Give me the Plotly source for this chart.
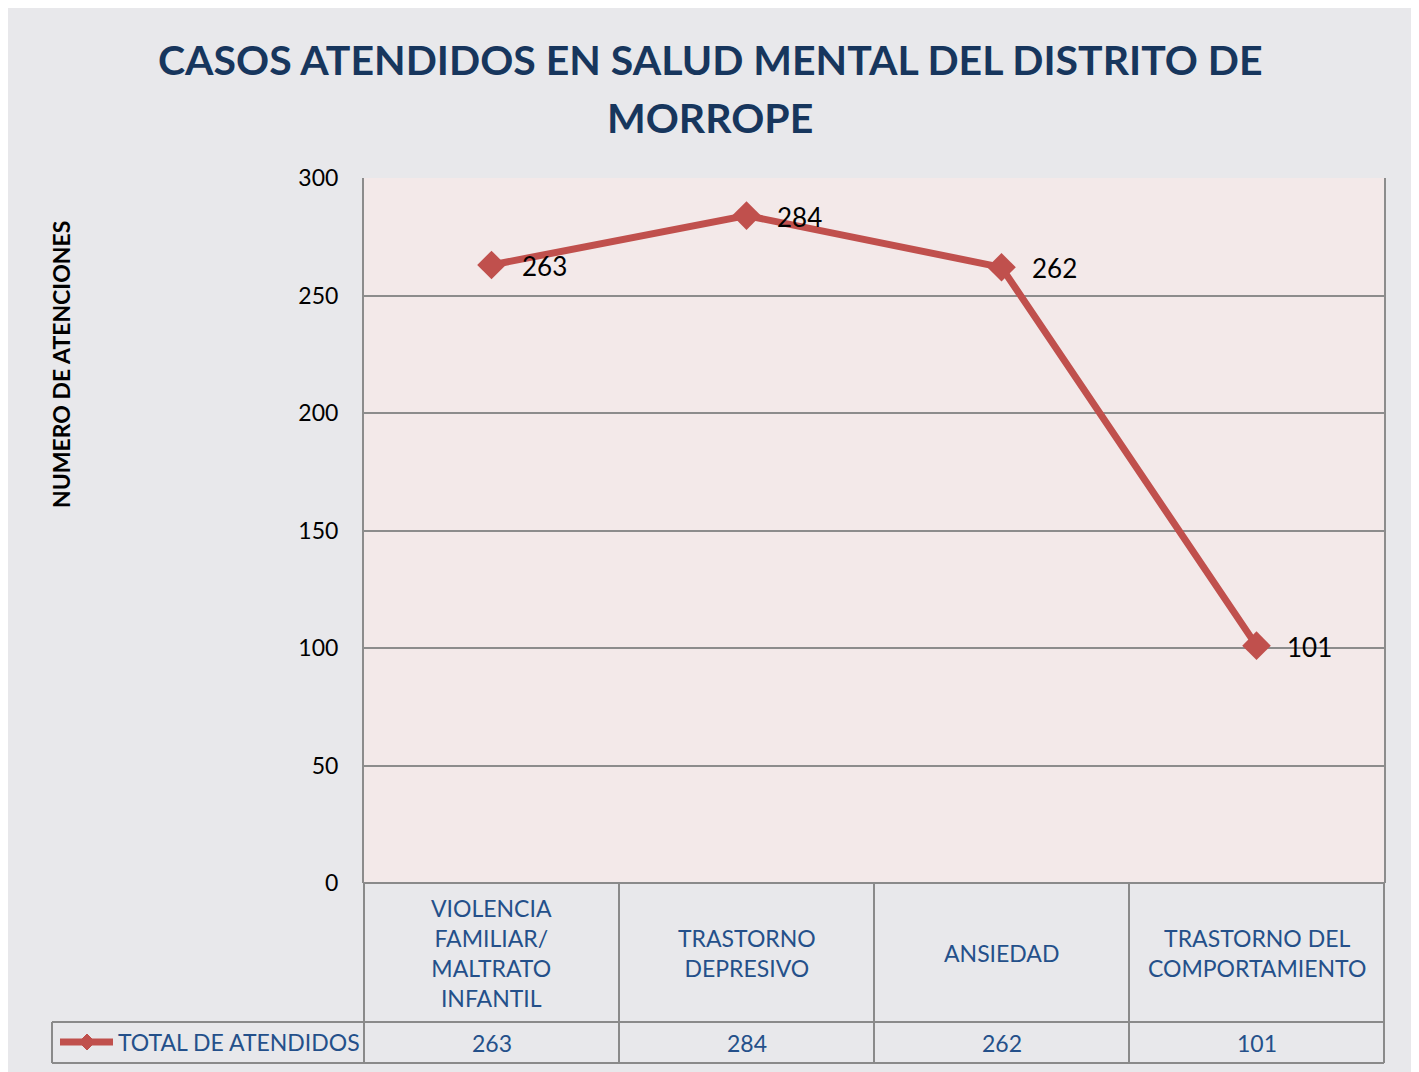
import plotly.graph_objects as go

categories = ["VIOLENCIA<br>FAMILIAR/<br>MALTRATO<br>INFANTIL", "TRASTORNO<br>DEPRESIVO",
              "ANSIEDAD", "TRASTORNO DEL<br>COMPORTAMIENTO"]
values = [263, 284, 262, 101]
series_name = "TOTAL DE ATENDIDOS"
y_ticks = [0, 50, 100, 150, 200, 250, 300]
title_lines = ["CASOS ATENDIDOS EN SALUD MENTAL DEL DISTRITO DE", "MORROPE"]
y_title = "NUMERO DE ATENCIONES"

W, H = 1419, 1072
OFF = 8  # page body margin
L, R, T, B = 364, 1384, 178, 883  # plot area in screen pixels


def px_x(px):  # screen pixel -> paper x
    return (px - L) / (R - L)


def px_y(py):  # screen pixel -> paper y
    return (B - py) / (B - T)


LINE_COLOR = "#C0504D"
TABLE_TEXT = "#24508A"
GRID = "#8C8C8C"
BORDER = "#8A8A8A"
FONT = "Lato"

xs = list(range(len(values)))
ncol = len(values)

fig = go.Figure()
fig.add_trace(go.Scatter(
    x=xs, y=values, mode="lines+markers",
    line=dict(color=LINE_COLOR, width=7),
    marker=dict(symbol="diamond", size=22, color=LINE_COLOR),
    showlegend=False, cliponaxis=False,
))

shapes = []
ann = []

# data labels
for x, v in zip(xs, values):
    ann.append(dict(text=str(v), xref="x", yref="y", x=x, y=v, xanchor="left",
                    yanchor="middle", xshift=28, yshift=-1, showarrow=False,
                    font=dict(family=FONT, size=26, color="black")))

# outer chart border
shapes.append(dict(type="rect", xref="paper", yref="paper",
                   x0=px_x(7), x1=px_x(1412), y0=px_y(1075), y1=px_y(7),
                   line=dict(color=BORDER, width=2), layer="below"))

# data table grid (paper coords)
row1 = px_y(1022)
row2 = px_y(1063)
xl_leg = px_x(52)
shapes.append(dict(type="line", xref="paper", yref="paper", x0=0, x1=1, y0=0, y1=0,
                   line=dict(color=BORDER, width=2)))
for yv in [row1, row2]:
    shapes.append(dict(type="line", xref="paper", yref="paper", x0=xl_leg, x1=1,
                       y0=yv, y1=yv, line=dict(color=BORDER, width=2)))
for i in range(ncol + 1):
    shapes.append(dict(type="line", xref="paper", yref="paper", x0=i / ncol, x1=i / ncol,
                       y0=row2, y1=0, line=dict(color=BORDER, width=2)))
shapes.append(dict(type="line", xref="paper", yref="paper", x0=xl_leg, x1=xl_leg,
                   y0=row2, y1=row1, line=dict(color=BORDER, width=2)))

# legend key (line + diamond) in table
ky = px_y(1042)
shapes.append(dict(type="line", xref="paper", yref="paper", x0=px_x(60), x1=px_x(113),
                   y0=ky, y1=ky, line=dict(color=LINE_COLOR, width=7)))
cx, cy, d = 87, 1042, 8
shapes.append(dict(type="path", xref="paper", yref="paper",
                   path=f"M {px_x(cx-d)} {px_y(cy)} L {px_x(cx)} {px_y(cy-d)} L {px_x(cx+d)} {px_y(cy)} L {px_x(cx)} {px_y(cy+d)} Z",
                   fillcolor=LINE_COLOR, line=dict(color=LINE_COLOR, width=1)))
ann.append(dict(text=series_name, xref="paper", yref="paper", x=px_x(116), y=ky,
                xanchor="left", yanchor="middle", showarrow=False,
                font=dict(family=FONT, size=23, color=TABLE_TEXT)))

# category labels and values in table
for i, (c, v) in enumerate(zip(categories, values)):
    ann.append(dict(text=c, xref="x", yref="paper", x=i, y=(0 + row1) / 2,
                    xanchor="center", yanchor="middle", showarrow=False,
                    font=dict(family=FONT, size=23, color=TABLE_TEXT)))
    ann.append(dict(text=str(v), xref="x", yref="paper", x=i, y=(row1 + row2) / 2,
                    xanchor="center", yanchor="middle", showarrow=False,
                    font=dict(family=FONT, size=23, color=TABLE_TEXT)))

# title
for line, yc in zip(title_lines, [59, 117]):
    ann.append(dict(text=line, xref="paper", yref="paper", x=px_x(710), y=px_y(yc),
                    xanchor="center", yanchor="middle", showarrow=False,
                    font=dict(family=FONT, size=41, color="#17365D", weight="bold")))
# y axis title
ann.append(dict(text=y_title, xref="paper", yref="paper", x=px_x(61), y=px_y(365),
                xanchor="center", yanchor="middle", textangle=-90, showarrow=False,
                font=dict(family=FONT, size=23, color="black", weight="bold")))

fig.update_layout(
    width=W, height=H,
    margin=dict(l=L - OFF, r=W - (R - OFF), t=T - OFF, b=H - (B - OFF)),
    paper_bgcolor="#E8E8EB", plot_bgcolor="#F3E9E9",
    shapes=shapes, annotations=ann,
    xaxis=dict(range=[-0.5, ncol - 0.5], showticklabels=False, showgrid=False,
               zeroline=False, showline=False, fixedrange=True),
    yaxis=dict(range=[0, 300], tickvals=y_ticks, showgrid=True, gridcolor=GRID, gridwidth=1.5,
               zeroline=False, showline=True, linecolor=GRID, linewidth=2, mirror=True,
               ticks="outside", ticklen=0, ticklabelstandoff=19,
               tickfont=dict(family=FONT, size=23, color="black")),
    font=dict(family=FONT),
)

fig.write_html("out.html")
